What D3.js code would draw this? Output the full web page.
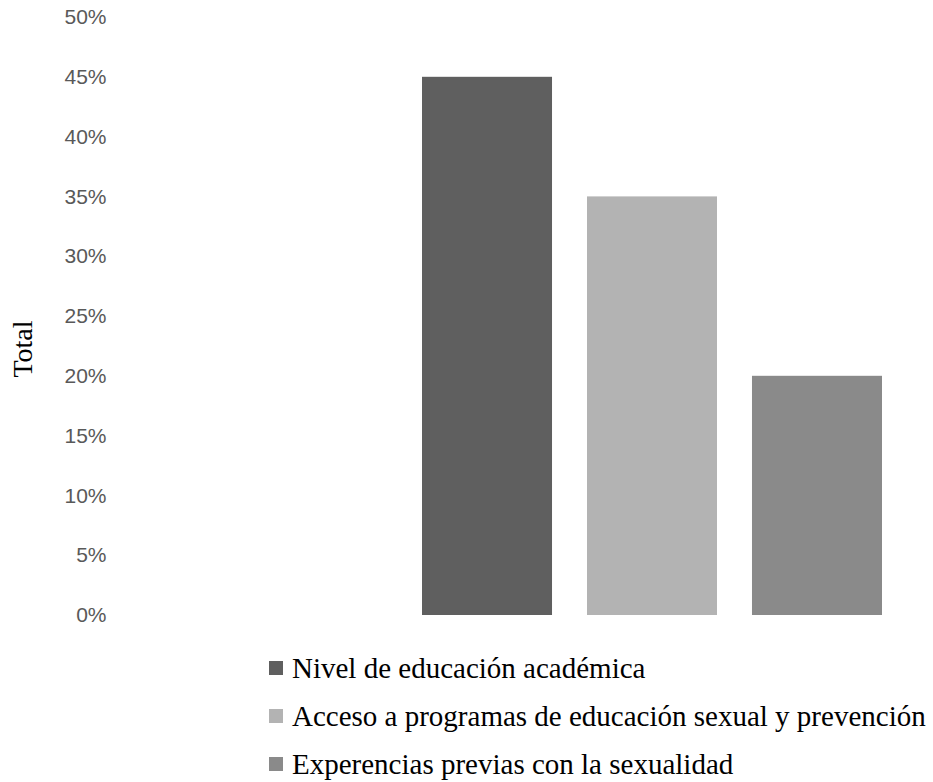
<!DOCTYPE html>
<html>
<head>
<meta charset="utf-8">
<script src="https://cdn.jsdelivr.net/npm/d3@7"></script>
<style>
  html, body { margin: 0; padding: 0; background: #ffffff; }
  svg { display: block; }
</style>
</head>
<body>
<svg id="chart" width="933" height="782"></svg>
<script>
// Factors and their share of responses (percent)
const seriesNames = [
  "Nivel de educación académica",
  "Acceso a programas de educación sexual y prevención",
  "Experencias previas con la sexualidad"
];
const seriesValues = [45, 35, 20];
const seriesColors = ["#5f5f5f", "#b3b3b3", "#8a8a8a"];
const yTicks = [0, 5, 10, 15, 20, 25, 30, 35, 40, 45, 50];
const yAxisTitle = "Total";

const svg = d3.select("#chart");

const y = d3.scaleLinear().domain([0, 50]).range([615, 17]);
const x = d3.scaleBand()
  .domain(seriesNames)
  .range([422, 882])
  .paddingInner(0.212)
  .paddingOuter(0);

// Y axis: labels only, no domain line or tick marks
const yAxis = d3.axisLeft(y)
  .tickValues(yTicks)
  .tickFormat(d => d + "%")
  .tickSize(0)
  .tickPadding(0);

const gy = svg.append("g")
  .attr("transform", "translate(106.5,0)")
  .call(yAxis);
gy.select(".domain").remove();
gy.selectAll("text")
  .attr("fill", "#595959")
  .style("font-family", "'Liberation Sans', Arial, sans-serif")
  .style("font-size", "21px");

// Axis title
svg.append("text")
  .attr("transform", "translate(32,349) rotate(-90)")
  .attr("text-anchor", "middle")
  .style("font-family", "'Liberation Serif', 'Times New Roman', serif")
  .style("font-size", "28px")
  .attr("fill", "#000")
  .text(yAxisTitle);

// Bars
svg.append("g")
  .selectAll("rect")
  .data(seriesNames)
  .join("rect")
  .attr("x", d => x(d))
  .attr("width", x.bandwidth())
  .attr("y", (d, i) => y(seriesValues[i]))
  .attr("height", (d, i) => y(0) - y(seriesValues[i]))
  .attr("fill", (d, i) => seriesColors[i]);

// Legend
const legend = svg.append("g").attr("transform", "translate(269,0)");
const rows = legend.selectAll("g")
  .data(seriesNames)
  .join("g")
  .attr("transform", (d, i) => `translate(0,${668 + i * 48})`);
rows.append("rect")
  .attr("x", 0).attr("y", -7)
  .attr("width", 14).attr("height", 14)
  .attr("fill", (d, i) => seriesColors[i]);
rows.append("text")
  .attr("x", 23)
  .attr("y", 9.5)
  .style("font-family", "'Liberation Serif', 'Times New Roman', serif")
  .style("font-size", "29px")
  .attr("fill", "#000")
  .text(d => d);
</script>
</body>
</html>
